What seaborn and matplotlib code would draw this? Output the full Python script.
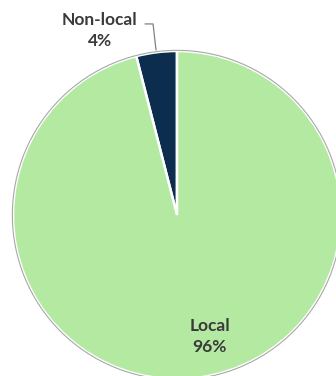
import matplotlib
matplotlib.use("Agg")
import matplotlib.pyplot as plt
import seaborn as sns

categories = ["Non-local", "Local"]
values = [4, 96]
pct_labels = ["4%", "96%"]
colors = ["#0c2d4e", "#b4e9a2"]

sns.set_theme(style="white")
plt.rcParams['font.family'] = ['Lato', 'DejaVu Sans']

fig = plt.figure(figsize=(3.36, 3.76), dpi=100)
ax = fig.add_axes([0, 0, 1, 1])
wedges, _ = ax.pie(values, colors=colors, startangle=90, counterclock=True,
                   wedgeprops=dict(edgecolor="white", linewidth=1.8))
# outer thin gray outline
circle = plt.Circle((0, 0), 1.004, fill=False, edgecolor="#a8a8a8", linewidth=0.8)
ax.add_patch(circle)

cx, cy, r = 177, 161, 164
ax.set_aspect('auto')
ax.set_xlim((0 - cx) / r, (336 - cx) / r)
ax.set_ylim((0 - cy) / r, (376 - cy) / r)
ax.axis('off')

ax.text(-0.47, 1.125, f"{categories[0]}\n{pct_labels[0]}", ha="center", va="center",
        fontsize=12.5, fontweight="bold", color="#3a3a3a", linespacing=1.35)
ax.text(0.20, -0.74, f"{categories[1]}\n{pct_labels[1]}", ha="center", va="center",
        fontsize=12.5, fontweight="bold", color="#3a3a3a", linespacing=1.35)
ax.plot([-0.195, -0.146, -0.128], [1.165, 1.165, 1.006], color="#808080", linewidth=0.9)

fig.savefig("out.png", dpi=100)
